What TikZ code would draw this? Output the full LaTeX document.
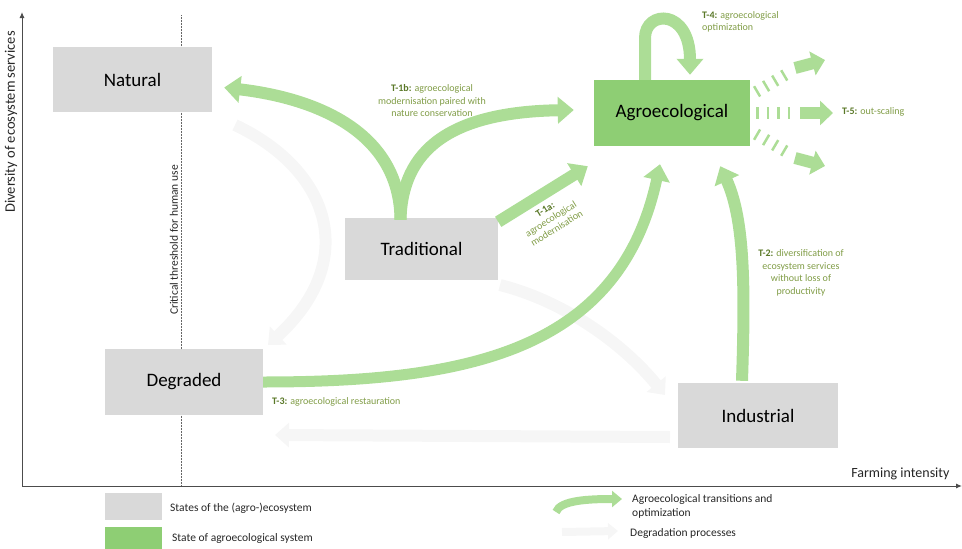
\documentclass[tikz,border=0pt]{standalone}
\usepackage{fontspec}
\setmainfont{Carlito}
\usetikzlibrary{arrows.meta,calc}
\definecolor{boxgray}{RGB}{217,217,217}
\definecolor{boxgreen}{RGB}{142,206,116}
\definecolor{arrgreen}{RGB}{172,221,150}
\definecolor{lblgreen}{RGB}{128,156,70}
\definecolor{lbldark}{RGB}{90,120,40}
\definecolor{degr}{RGB}{246,246,246}
\begin{document}
\begin{tikzpicture}[x=1pt,y=-1pt,
  state/.style={fill=boxgray,draw=none,inner sep=0pt,font=\fontsize{19}{22}\selectfont},
  agro/.style={fill=boxgreen,draw=none,inner sep=0pt,font=\fontsize{19}{22}\selectfont},
  tarrow/.style={draw=arrgreen,line width=12pt,-{Triangle[width=26pt,length=16pt]}},
  darrow/.style={draw=degr,line width=12pt,-{Triangle[width=24pt,length=14pt]}},
  lbl/.style={text=lblgreen,font=\fontsize{10}{12.5}\selectfont,inner sep=0pt},
  leg/.style={text=black!85,font=\fontsize{11.5}{14}\selectfont,inner sep=0pt,anchor=west}]
\useasboundingbox (0,0) rectangle (962,549);

% axes
\coordinate (o) at (22,486);
\coordinate (ytop) at (22,12);
\coordinate (xend) at (962,486);
\draw[black!70,line width=1pt,-{Latex[length=6pt,width=5pt]}] (o) -- (ytop);
\draw[black!70,line width=1pt,-{Latex[length=6pt,width=5pt]}] (o) -- (xend);
\node[rotate=90,font=\fontsize{14.5}{16}\selectfont,text=black!85] (ylab) at (11,122) {Diversity of ecosystem services};
\node[anchor=east,font=\fontsize{14}{16}\selectfont,text=black!85] (xlab) at (953,474) {Farming intensity};

% threshold
\coordinate (th1) at (181,15);
\coordinate (th2) at (181,486);
\draw[black!60,line width=0.5pt,densely dotted] (th1) -- (th2);
\node[rotate=90,font=\fontsize{11.5}{13}\selectfont,text=black!85,fill=white,inner sep=1pt] (thlab) at (174,240) {Critical threshold for human use};

% faint degradation processes
\coordinate (d1) at (235,125);
\coordinate (d2) at (268,345);
\coordinate (d3) at (500,285);
\coordinate (d4) at (665,395);
\coordinate (d5) at (670,437);
\coordinate (d6) at (275,435);
\draw[darrow] (d1) .. controls (330,170) and (360,260) .. (d2);
\draw[darrow] (d3) .. controls (560,300) and (620,340) .. (d4);
\draw[darrow] (d5) -- (d6);

% states
\node[state,minimum width=159pt,minimum height=65pt] (nat) at (132.5,79.5) {Natural};
\node[state,minimum width=153pt,minimum height=62pt] (trad) at (421.5,249) {Traditional};
\node[state,minimum width=158pt,minimum height=66pt] (deg) at (184,382) {Degraded};
\node[state,minimum width=160pt,minimum height=65pt] (ind) at (758,415.5) {Industrial};
\node[agro,minimum width=156pt,minimum height=66pt] (agr) at (672,113) {Agroecological};

% T-1b
\draw[tarrow] ($(trad.north)+(-21,2)$) .. controls (400,140) and (330,100) .. ($(nat.east)+(12,8)$);
\draw[tarrow] ($(trad.north)+(-21,2)$) .. controls (402,150) and (450,112) .. ($(agr.west)+(-20,-3)$);
\node[lbl,align=center] (t1b) at (432,101) {\textcolor{lbldark}{\textbf{T-1b:}} agroecological\\modernisation paired with\\nature conservation};

% T-1a
\draw[tarrow] ($(trad.north east)+(0,4)$) -- ($(agr.south west)+(-6,20)$);
\node[lbl,align=center,rotate=32,font=\fontsize{10}{11}\selectfont] (t1a) at (551,219) {\textcolor{lbldark}{\textbf{T-1a:}}\\agroecological\\modernisation};

% T-3
\draw[tarrow,line width=11pt] (deg.east) .. controls (470,382) and (620,350) .. ($(agr.south)+(-12,18)$);
\node[lbl,anchor=west] (t3) at (272,402) {\textcolor{lbldark}{\textbf{T-3:}} agroecological restauration};

% T-2
\draw[tarrow] ($(ind.north)+(-16,-2)$) .. controls (745,290) and (745,220) .. ($(agr.south east)+(-30,20)$);
\node[lbl,align=center] (t2) at (801,273) {\textcolor{lbldark}{\textbf{T-2:}} diversification of\\ecosystem services\\without loss of\\productivity};

% T-4
\draw[tarrow] ($(agr.north)+(-27,0)$) -- (645,38) .. controls (645,10) and (690,8) .. ($(agr.north)+(18,-5)$);
\node[lbl,anchor=north west,align=left] (t4) at (702,11) {\textcolor{lbldark}{\textbf{T-4:}} agroecological\\optimization};

% T-5
\coordinate (h1s) at (756,92);
\coordinate (h1e) at (790,72);
\coordinate (h2s) at (756,113);
\coordinate (h2e) at (795,113);
\coordinate (h3s) at (756,134);
\coordinate (h3e) at (790,154);
\draw[arrgreen,line width=12pt,dash pattern=on 2.5pt off 8pt] (h1s) -- (h1e);
\draw[arrgreen,line width=12pt,dash pattern=on 2.5pt off 8pt] (h2s) -- (h2e);
\draw[arrgreen,line width=12pt,dash pattern=on 2.5pt off 8pt] (h3s) -- (h3e);
\coordinate (a1s) at (795,68);
\coordinate (a1e) at (825,60);
\coordinate (a2s) at (800,113);
\coordinate (a2e) at (833,113);
\coordinate (a3s) at (795,158);
\coordinate (a3e) at (825,166);
\draw[tarrow,-{Triangle[width=24pt,length=13pt]}] (a1s) -- (a1e);
\draw[tarrow,-{Triangle[width=24pt,length=13pt]}] (a2s) -- (a2e);
\draw[tarrow,-{Triangle[width=24pt,length=13pt]}] (a3s) -- (a3e);
\node[lbl,anchor=west] (t5) at (842,112) {\textcolor{lbldark}{\textbf{T-5:}} out-scaling};

% legend
\node[fill=boxgray,minimum width=57pt,minimum height=27pt,inner sep=0pt] (lg1) at (133.5,506.5) {};
\node[fill=boxgreen,minimum width=57pt,minimum height=22pt,inner sep=0pt,anchor=north] (lg2) at (133.5,527) {};
\node[leg] (lt1) at (170,508) {States of the (agro-)ecosystem};
\node[leg] (lt2) at (172,538) {State of agroecological system};
\coordinate (la1) at (556,512);
\coordinate (la2) at (622,499);
\draw[draw=arrgreen,line width=8pt,-{Triangle[width=16pt,length=10pt]}] (la1) .. controls (560,500) and (590,499) .. (la2);
\coordinate (lb1) at (562,532);
\coordinate (lb2) at (618,531);
\draw[draw=degr,line width=8pt,-{Triangle[width=16pt,length=10pt]}] (lb1) -- (lb2);
\node[leg,align=left,anchor=north west] (lt3) at (632,494) {Agroecological transitions and\\optimization};
\node[leg] (lt4) at (630,533) {Degradation processes};
\end{tikzpicture}
\end{document}
